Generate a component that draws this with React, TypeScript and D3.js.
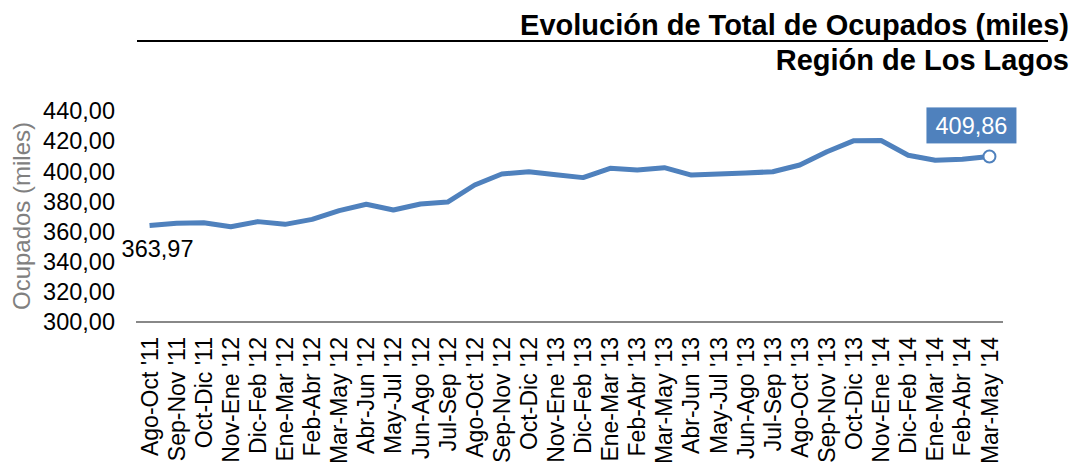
import React from 'react'
import * as d3 from 'd3'

const categories = [
  "Ago-Oct '11", "Sep-Nov '11", "Oct-Dic '11", "Nov-Ene '12", "Dic-Feb '12", "Ene-Mar '12",
  "Feb-Abr '12", "Mar-May '12", "Abr-Jun '12", "May-Jul '12", "Jun-Ago '12", "Jul-Sep '12",
  "Ago-Oct '12", "Sep-Nov '12", "Oct-Dic '12", "Nov-Ene '13", "Dic-Feb '13", "Ene-Mar '13",
  "Feb-Abr '13", "Mar-May '13", "Abr-Jun '13", "May-Jul '13", "Jun-Ago '13", "Jul-Sep '13",
  "Ago-Oct '13", "Sep-Nov '13", "Oct-Dic '13", "Nov-Ene '14", "Dic-Feb '14", "Ene-Mar '14",
  "Feb-Abr '14", "Mar-May '14",
]

const ocupados = [
  363.97, 365.5, 365.9, 363.2, 366.6, 364.8, 368.1, 373.9, 378.1, 374.3, 378.3, 379.6,
  390.9, 398.2, 399.7, 397.7, 395.8, 402.0, 400.9, 402.4, 397.5, 398.2, 398.9, 399.7,
  404.2, 413.0, 420.3, 420.4, 410.6, 407.3, 408.0, 409.86,
]

const yTicks = [300, 320, 340, 360, 380, 400, 420, 440]

const title1 = 'Evolución de Total de Ocupados (miles)'
const title2 = 'Región de Los Lagos'
const yLabel = 'Ocupados (miles)'

const W = 1076
const H = 468
const font = "'Liberation Sans', Arial, sans-serif"
const blue = '#4F81BD'

const fmt = (v: number) => v.toFixed(2).replace('.', ',')

export default function App() {
  const x = d3.scaleBand<string>().domain(categories).range([136, 1003])
  const y = d3.scaleLinear().domain([300, 440]).range([322, 111])

  const cx = (c: string) => (x(c) ?? 0) + x.bandwidth() / 2

  const line = d3
    .line<number>()
    .x((_d, i) => cx(categories[i]))
    .y((d) => y(d))

  const first = ocupados[0]
  const last = ocupados[ocupados.length - 1]
  const lastX = cx(categories[categories.length - 1])
  const firstX = cx(categories[0])

  return (
    <svg
      width={W}
      height={H}
      style={{ position: 'absolute', left: 0, top: 0, background: '#fff' }}
      fontFamily={font}
    >
      {/* title */}
      <text x={1069} y={35} textAnchor="end" fontSize={29} fontWeight="bold" fill="#000">
        {title1}
      </text>
      <line x1={137} x2={1048} y1={41} y2={41} stroke="#000" strokeWidth={2} />
      <text x={1069} y={70} textAnchor="end" fontSize={29} fontWeight="bold" fill="#000">
        {title2}
      </text>

      {/* y axis label */}
      <text
        transform={`translate(30,216) rotate(-90)`}
        textAnchor="middle"
        fontSize={24}
        fill="#808080"
      >
        {yLabel}
      </text>

      {/* y ticks */}
      {yTicks.map((t) => (
        <text key={t} x={115} y={y(t)} dy="0.35em" textAnchor="end" fontSize={23.5} fill="#000">
          {fmt(t)}
        </text>
      ))}

      {/* x axis */}
      <line x1={136} x2={1003} y1={322} y2={322} stroke="#888" strokeWidth={2} />
      {categories.map((c) => (
        <text
          key={c}
          transform={`translate(${cx(c)},337) rotate(-90)`}
          textAnchor="end"
          dy="0.35em"
          fontSize={23}
          fill="#000"
        >
          {c}
        </text>
      ))}

      {/* series */}
      <path d={line(ocupados) ?? ''} fill="none" stroke={blue} strokeWidth={5} strokeLinejoin="round" />
      <circle cx={lastX} cy={y(last)} r={6} fill="#fff" stroke={blue} strokeWidth={2} />

      {/* data labels */}
      <text x={firstX + 8} y={y(first) + 31} textAnchor="middle" fontSize={23.5} fill="#000">
        {fmt(first)}
      </text>
      <rect x={lastX - 63} y={y(last) - 49} width={90} height={36} fill={blue} />
      <text x={lastX - 18} y={y(last) - 31} dy="0.35em" textAnchor="middle" fontSize={23.5} fill="#fff">
        {fmt(last)}
      </text>
    </svg>
  )
}
